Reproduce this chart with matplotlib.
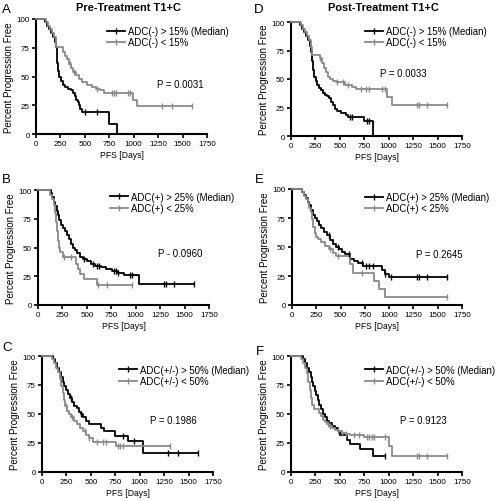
import numpy as np
import matplotlib
matplotlib.use('Agg')
import matplotlib.pyplot as plt
from matplotlib.lines import Line2D

plt.rcParams['font.family'] = ['Liberation Sans', 'DejaVu Sans']

# Data: event times (days), survival after each event (%),
# last follow-up time and censor times, for each curve

# A: Pre-Treatment, ADC(-)
a_hi_t = [90, 110, 130, 150, 170, 190, 205, 212, 220, 228, 240, 255, 275, 300, 330, 355, 375, 395, 410, 425, 440, 455, 470, 750, 830]
a_hi_s = [97, 94, 91, 88, 84, 80, 76, 70, 62, 55, 50, 46, 43, 41, 39, 38, 36, 33, 30, 28, 25, 22, 19, 9, 0]
a_hi_end = 830
a_hi_cens = [500, 620]
a_lo_t = [100, 120, 140, 160, 180, 200, 280, 300, 320, 340, 360, 380, 410, 440, 470, 520, 570, 610, 660, 700, 990, 1030]
a_lo_s = [97, 94, 91, 88, 84, 76, 71, 68, 65, 61, 57, 54, 51, 48, 45, 43, 41, 39, 38, 36, 30, 24]
a_lo_end = 1600
a_lo_cens = [350, 390, 620, 780, 800, 820, 940, 960, 1290, 1390, 1600]

# D: Post-Treatment, ADC(-)
d_hi_t = [90, 110, 130, 150, 170, 190, 205, 215, 225, 240, 255, 270, 290, 310, 330, 350, 370, 390, 410, 430, 450, 470, 510, 560, 580, 750, 835]
d_hi_s = [97, 94, 91, 88, 84, 79, 74, 66, 58, 52, 48, 45, 42, 40, 38, 36, 35, 33, 30, 27, 24, 22, 20, 18, 17, 13, 0]
d_hi_end = 835
d_hi_cens = [600, 620, 780, 800]
d_lo_t = [100, 120, 140, 160, 180, 200, 220, 300, 320, 340, 360, 380, 400, 430, 460, 550, 620, 670, 985, 1030]
d_lo_s = [97, 94, 91, 88, 84, 78, 71, 68, 64, 60, 56, 52, 50, 48, 47, 45, 43, 41, 34, 27]
d_lo_end = 1600
d_lo_cens = [300, 470, 530, 580, 720, 770, 800, 930, 960, 1290, 1310, 1390, 1600]

# B: Pre-Treatment, ADC(+)
b_hi_t = [130, 145, 160, 175, 190, 205, 220, 240, 260, 280, 300, 320, 340, 360, 380, 400, 430, 460, 500, 540, 580, 640, 700, 760, 820, 880, 1030]
b_hi_s = [97, 94, 90, 86, 82, 78, 74, 70, 67, 64, 61, 57, 53, 50, 48, 45, 42, 40, 38, 36, 34, 33, 31, 30, 28, 26, 18]
b_hi_end = 1600
b_hi_cens = [470, 560, 600, 620, 780, 800, 820, 940, 960, 1290, 1310, 1390, 1600]
b_lo_t = [120, 140, 160, 175, 185, 195, 205, 215, 230, 260, 390, 410, 430, 470, 600]
b_lo_s = [96, 92, 87, 80, 72, 64, 56, 50, 46, 42, 36, 31, 27, 23, 17]
b_lo_end = 960
b_lo_cens = [270, 340, 610, 710, 960]

# E: Post-Treatment, ADC(+)
e_hi_t = [100, 120, 140, 160, 180, 200, 220, 240, 260, 280, 300, 330, 360, 390, 420, 450, 480, 510, 550, 600, 640, 680, 730, 930, 960, 1000]
e_hi_s = [97, 95, 92, 89, 86, 82, 78, 75, 72, 69, 66, 63, 60, 56, 53, 50, 48, 46, 44, 40, 38, 36, 34, 30, 27, 24]
e_hi_end = 1600
e_hi_cens = [380, 470, 590, 720, 760, 790, 830, 960, 1020, 1290, 1310, 1390, 1600]
e_lo_t = [100, 120, 140, 160, 180, 200, 210, 220, 235, 250, 270, 300, 340, 380, 420, 450, 600, 630, 840, 900, 960]
e_lo_s = [97, 94, 91, 88, 84, 80, 74, 67, 62, 59, 57, 54, 51, 48, 45, 42, 35, 28, 21, 14, 7]
e_lo_end = 1600
e_lo_cens = [390, 470, 720, 1600]

# C: Pre-Treatment, ADC(+/-)
c_hi_t = [110, 130, 150, 170, 190, 210, 230, 250, 270, 290, 310, 330, 360, 380, 400, 420, 450, 480, 600, 630, 750, 880, 1030]
c_hi_s = [97, 94, 90, 86, 82, 78, 74, 71, 67, 64, 60, 57, 55, 52, 50, 47, 44, 41, 38, 35, 31, 27, 16]
c_hi_end = 1600
c_hi_cens = [300, 400, 830, 940, 1290, 1390, 1600]
c_lo_t = [100, 120, 140, 160, 180, 195, 210, 225, 240, 260, 280, 300, 330, 360, 390, 420, 450, 480, 520, 760]
c_lo_s = [97, 94, 90, 86, 80, 74, 68, 62, 57, 53, 50, 47, 44, 41, 38, 35, 32, 29, 26, 22]
c_lo_end = 1310
c_lo_cens = [190, 250, 310, 440, 480, 560, 620, 650, 780, 800, 830, 1310]

# F: Post-Treatment, ADC(+/-)
f_hi_t = [120, 140, 160, 180, 200, 215, 230, 245, 260, 275, 290, 310, 330, 350, 370, 390, 420, 450, 480, 500, 570, 600, 710, 840]
f_hi_s = [97, 94, 90, 86, 82, 78, 74, 70, 66, 62, 58, 54, 50, 47, 44, 42, 40, 38, 35, 32, 28, 24, 20, 14]
f_hi_end = 960
f_hi_cens = [960]
f_lo_t = [100, 120, 140, 160, 175, 190, 205, 220, 235, 290, 310, 330, 350, 370, 390, 420, 450, 480, 520, 560, 600, 750, 1000, 1030]
f_lo_s = [97, 94, 90, 85, 78, 71, 64, 58, 54, 51, 48, 45, 43, 41, 40, 38, 36, 35, 34, 33, 32, 30, 22, 14]
f_lo_end = 1600
f_lo_cens = [380, 400, 480, 520, 560, 640, 700, 780, 800, 830, 850, 960, 1290, 1310, 1390, 1600]

x_ticks = [0, 250, 500, 750, 1000, 1250, 1500, 1750]
y_ticks = [0, 25, 50, 75, 100]

BLACK = 'black'
GRAY = '#8a8a8a'


def km(ax, t, s, end, cens, color):
    x = np.array([0] + t + [end])
    y = np.array([100] + s + [s[-1]])
    ax.plot(x, y, drawstyle='steps-post', color=color, lw=1.3, clip_on=False, zorder=3)
    # censor marks sit on the current level of the curve
    idx = np.searchsorted(x, cens, side='right') - 1
    ax.plot(cens, y[idx], ls='none', marker='|', ms=4, mew=1.0, color=color, clip_on=False, zorder=4)


def panel(rect, letter, letter_xy, hi, lo, labels, leg_xy, ptext, p_xy):
    ax = fig.add_axes(rect)
    km(ax, *hi, BLACK)
    km(ax, *lo, GRAY)
    ax.set_xlim(0, 1750)
    ax.set_ylim(0, 100)
    ax.set_xticks(x_ticks)
    ax.set_yticks(y_ticks)
    for sp in ['top', 'right']:
        ax.spines[sp].set_visible(False)
    for sp in ['left', 'bottom']:
        ax.spines[sp].set_linewidth(1.5)
    ax.tick_params(direction='out', length=3, width=1.2, labelsize=5.8, pad=1.5)
    ax.set_xlabel('PFS [Days]', fontsize=6.2, labelpad=2)
    ax.set_ylabel('Percent Progression Free', fontsize=7, labelpad=2)
    handles = [Line2D([], [], color=BLACK, lw=1.3, marker='|', ms=4),
               Line2D([], [], color=GRAY, lw=1.3, marker='|', ms=4)]
    ax.legend(handles, labels, loc='upper left', bbox_to_anchor=leg_xy, frameon=False,
              fontsize=6.9, handlelength=1.9, handletextpad=0.3, labelspacing=0.15,
              borderpad=0, borderaxespad=0, numpoints=1)
    ax.text(p_xy[0], p_xy[1], ptext, transform=ax.transAxes, fontsize=6.9, va='center')
    fig.text(letter_xy[0], letter_xy[1], letter, fontsize=9.5, va='center', ha='left')
    return ax


W, H = 504, 502
fig = plt.figure(figsize=(W / 100, H / 100), dpi=100)


def rect(l, r, t, b):
    return [l / W, (H - b) / H, (r - l) / W, (b - t) / H]


panel(rect(36, 207, 20, 135), 'A', (2 / W, 1 - 10 / H),
      (a_hi_t, a_hi_s, a_hi_end, a_hi_cens), (a_lo_t, a_lo_s, a_lo_end, a_lo_cens),
      ['ADC(-) > 15% (Median)', 'ADC(-) < 15%'], (0.415, 0.94), 'P = 0.0031', (0.71, 0.435))
panel(rect(291, 462, 23, 137), 'D', (254 / W, 1 - 10 / H),
      (d_hi_t, d_hi_s, d_hi_end, d_hi_cens), (d_lo_t, d_lo_s, d_lo_end, d_lo_cens),
      ['ADC(-) > 15% (Median)', 'ADC(-) < 15%'], (0.43, 0.965), 'P = 0.0033', (0.52, 0.55))
panel(rect(38, 209, 191, 306), 'B', (2 / W, 1 - 180 / H),
      (b_hi_t, b_hi_s, b_hi_end, b_hi_cens), (b_lo_t, b_lo_s, b_lo_end, b_lo_cens),
      ['ADC(+) > 25% (Median)', 'ADC(+) < 25%'], (0.42, 0.985), 'P - 0.0960', (0.70, 0.45))
panel(rect(292, 462, 190, 306), 'E', (255 / W, 1 - 180 / H),
      (e_hi_t, e_hi_s, e_hi_end, e_hi_cens), (e_lo_t, e_lo_s, e_lo_end, e_lo_cens),
      ['ADC(+) > 25% (Median)', 'ADC(+) < 25%'], (0.43, 0.975), 'P = 0.2645', (0.73, 0.44))
panel(rect(42, 213, 357, 473), 'C', (2 / W, 1 - 348 / H),
      (c_hi_t, c_hi_s, c_hi_end, c_hi_cens), (c_lo_t, c_lo_s, c_lo_end, c_lo_cens),
      ['ADC(+/-) > 50% (Median)', 'ADC(+/-) < 50%'], (0.45, 0.925), 'P = 0.1986', (0.63, 0.45))
panel(rect(291, 462, 357, 473), 'F', (256 / W, 1 - 352 / H),
      (f_hi_t, f_hi_s, f_hi_end, f_hi_cens), (f_lo_t, f_lo_s, f_lo_end, f_lo_cens),
      ['ADC(+/-) > 50% (Median)', 'ADC(+/-) < 50%'], (0.43, 0.925), 'P = 0.9123', (0.64, 0.45))

fig.text(128 / W, 1 - 8 / H, 'Pre-Treatment T1+C', fontsize=7.9, fontweight='bold', ha='center', va='center')
fig.text(383 / W, 1 - 8 / H, 'Post-Treatment T1+C', fontsize=7.9, fontweight='bold', ha='center', va='center')

fig.savefig('out.png', dpi=100)
